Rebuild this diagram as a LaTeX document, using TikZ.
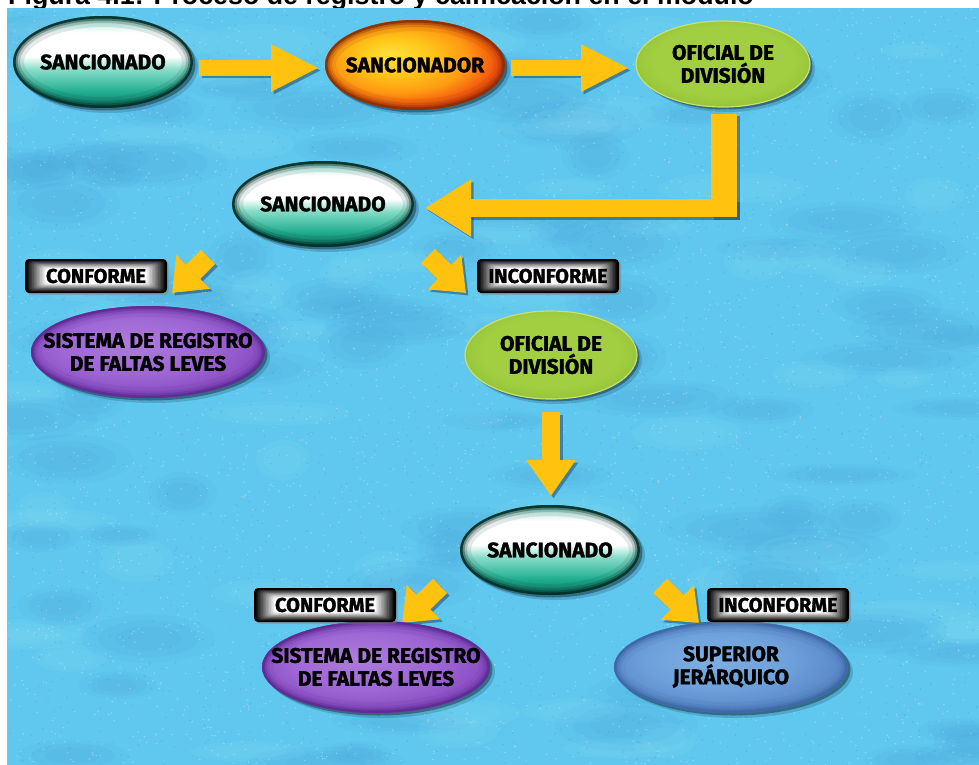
\documentclass[tikz,border=0pt]{standalone}
\usepackage{fontspec}
\setmainfont{Liberation Sans}
\newfontfamily\lblfont{Fira Sans}[BoldFeatures={FakeBold=1.6}]
\usetikzlibrary{shapes.geometric,arrows.meta,shadows,calc}

\definecolor{bgblue}{HTML}{60C8EE}
\definecolor{bgdark}{HTML}{3A8CCA}
\definecolor{bglight}{HTML}{A4EAFA}
\definecolor{arrowc}{HTML}{FFC20E}
\definecolor{arrowsh}{HTML}{1E4A6A}
\definecolor{tealA}{HTML}{0C7A64}
\definecolor{tealB}{HTML}{22AE90}
\definecolor{tealC}{HTML}{86DCC8}
\definecolor{tealD}{HTML}{C4EFE5}
\definecolor{tealE}{HTML}{4FBFA5}
\definecolor{tealR}{HTML}{03302A}
\definecolor{orY}{HTML}{FFE13E}
\definecolor{orA}{HTML}{FFC61A}
\definecolor{orB}{HTML}{FF9A12}
\definecolor{orC}{HTML}{F04A0C}
\definecolor{orD}{HTML}{D42808}
\definecolor{orR}{HTML}{8A3004}
\definecolor{grC}{HTML}{A2CF42}
\definecolor{grE}{HTML}{93C236}
\definecolor{grR}{HTML}{C9E06C}
\definecolor{puC}{HTML}{AC7CDC}
\definecolor{puM}{HTML}{9E66D4}
\definecolor{puE}{HTML}{8A4EC4}
\definecolor{puR}{HTML}{5E2C94}
\definecolor{blC}{HTML}{7EB0E4}
\definecolor{blM}{HTML}{6D9FDA}
\definecolor{blE}{HTML}{5A88C8}
\definecolor{blR}{HTML}{3E68A8}

\pgfdeclareverticalshading{tealball}{100bp}{color(0bp)=(tealA); color(25bp)=(tealA); color(34bp)=(tealB); color(46bp)=(tealC); color(53bp)=(white); color(66bp)=(white); color(72bp)=(tealD); color(75bp)=(tealE); color(100bp)=(tealE)}
\pgfdeclareradialshading{orangeball}{\pgfpoint{-7bp}{6bp}}{color(0bp)=(orY); color(10bp)=(orA); color(19bp)=(orB); color(27bp)=(orC); color(32bp)=(orD); color(50bp)=(orD)}
\pgfdeclareradialshading{greenball}{\pgfpoint{0bp}{3bp}}{color(0bp)=(grC); color(20bp)=(grC); color(28bp)=(grE); color(50bp)=(grE)}
\pgfdeclareradialshading{purpleball}{\pgfpoint{-4bp}{5bp}}{color(0bp)=(puC); color(16bp)=(puM); color(26bp)=(puE); color(34bp)=(puR); color(50bp)=(puR)}
\pgfdeclareradialshading{blueball}{\pgfpoint{-4bp}{5bp}}{color(0bp)=(blC); color(16bp)=(blM); color(26bp)=(blE); color(34bp)=(blR); color(50bp)=(blR)}

\tikzset{
  lbl/.style={font=\lblfont\bfseries\fontsize{21}{23}\selectfont, align=center, text=black, inner sep=0pt},
  taglbl/.style={lbl, font=\lblfont\bfseries\fontsize{20}{22}\selectfont},
  oval/.style 2 args={ellipse, minimum width=#1, minimum height=#2, inner sep=0pt},
  ringed/.style={path picture={
    \foreach \w/\o in {22/.10,14/.2,9/.38,5/.9}{
      \path let \p1=(path picture bounding box.north east),
                \p2=(path picture bounding box.center),
                \n1={\x1-\x2}, \n2={\y1-\y2} in
        [draw=#1, line width=\w pt, draw opacity=\o] (\p2) ellipse ({\n1} and {\n2});
    }}},
  softshadow/.style={drop shadow={shadow xshift=5pt, shadow yshift=-5pt, fill=arrowsh, opacity=.25},
                     drop shadow={shadow xshift=2.5pt, shadow yshift=-2.5pt, fill=black, opacity=.35}},
  tealnode/.style={softshadow, shade, shading=tealball, ringed=tealR},
  orangenode/.style={softshadow, shade, shading=orangeball, ringed=orR},
  greennode/.style={softshadow, shade, shading=greenball, draw=grR, line width=1.2pt},
  purplenode/.style={softshadow, shade, shading=purpleball, ringed=puR},
  bluenode/.style={softshadow, shade, shading=blueball, ringed=blR},
  tagbox/.style={rectangle, rounded corners=4pt, fill=black, minimum width=142pt, minimum height=34pt,
    inner sep=0pt, drop shadow={shadow xshift=2pt, shadow yshift=-2pt, opacity=.4}},
  arrbody/.style={draw=arrowc, line cap=butt},
  arrshadow/.style={draw=arrowsh, draw opacity=.55, fill opacity=.55, line cap=butt,
    transform canvas={shift={(2.5pt,-2.5pt)}}}
}

% from, to, body width, head width, head length
\newcommand\blockarrow[5]{%
  \draw[arrshadow, line width=#3, -{Triangle[width=#4,length=#5]}] (#1) -- (#2);
  \draw[arrbody, line width=#3, -{Triangle[width=#4,length=#5]}] (#1) -- (#2);}

% inner glow of a tag box, then its text
\newcommand\tagglow[2]{%
  \foreach \i in {1,...,12}{%
    \pgfmathtruncatemacro\gl{100-8.2*\i}%
    \fill[black!\gl, rounded corners=3pt]
      ([xshift=1.6*\i pt+1pt, yshift=-0.7*\i pt-1pt]#1.north west) rectangle
      ([xshift=-1.6*\i pt-1pt, yshift=0.7*\i pt+1pt]#1.south east);
  }%
  \node[taglbl] (#1t) at (#1) {#2};}

\begin{document}
\begin{tikzpicture}[x=1pt,y=-1pt]
\useasboundingbox (0,0) rectangle (979,765);
\fill[white] (0,0) rectangle (979,765);

% caption (cut at the top, as in the source)
\node[anchor=base west, inner sep=0pt, font=\bfseries\fontsize{26.8}{30}\selectfont] (cap) at (8,5)
  {Figura 4.1: Proceso de registro y calificación en el módulo};

% background
\fill[bgblue] (7,8) rectangle (979,765);
\begin{scope}
  \clip (7,8) rectangle (979,765);
  \pgfmathsetseed{42}
  \foreach \i in {1,...,90}{
    \pgfmathsetmacro\xx{7+972*rnd}
    \pgfmathsetmacro\yy{8+757*rnd}
    \pgfmathsetmacro\rx{30+60*rnd}
    \pgfmathsetmacro\ry{10+18*rnd}
    \foreach \k in {1.0,0.75,0.5}{
      \fill[bgdark, opacity=.06] (\xx,\yy) ellipse ({\k*\rx} and {\k*\ry});
    }
  }
  \foreach \i in {1,...,70}{
    \pgfmathsetmacro\xx{7+972*rnd}
    \pgfmathsetmacro\yy{8+757*rnd}
    \pgfmathsetmacro\rx{25+50*rnd}
    \pgfmathsetmacro\ry{8+14*rnd}
    \foreach \k in {1.0,0.7}{
      \fill[bglight, opacity=.07] (\xx,\yy) ellipse ({\k*\rx} and {\k*\ry});
    }
  }
  \foreach \i in {1,...,3500}{
    \fill[white, opacity=.30] (7+972*rnd, 8+757*rnd) circle (0.8);
  }
  \foreach \i in {1,...,1800}{
    \fill[bgdark, opacity=.30] (7+972*rnd, 8+757*rnd) circle (0.8);
  }
\end{scope}

% arrow coordinates
\coordinate (a1s) at (199,68);  \coordinate (a1e) at (319,68);
\coordinate (a2s) at (511,68);  \coordinate (a2e) at (629,68);
\coordinate (lv1) at (724,114); \coordinate (lv2) at (724,217);
\coordinate (lh1) at (737,208); \coordinate (lh2) at (425,208);
\coordinate (d1s) at (208,257); \coordinate (d1e) at (172,293);
\coordinate (d2s) at (428,256); \coordinate (d2e) at (466,293);
\coordinate (vs)  at (551,412); \coordinate (ve)  at (551,496);
\coordinate (d3s) at (440,586); \coordinate (d3e) at (402,623);
\coordinate (d4s) at (660,586); \coordinate (d4e) at (699,623);

% arrows
\blockarrow{a1s}{a1e}{16pt}{44pt}{48pt}
\blockarrow{a2s}{a2e}{16pt}{44pt}{48pt}
\draw[arrshadow, line width=26pt] (lv1) -- (lv2);
\draw[arrbody, line width=26pt] (lv1) -- (lv2);
\blockarrow{lh1}{lh2}{18pt}{54pt}{46pt}
\blockarrow{d1s}{d1e}{20pt}{46pt}{30pt}
\blockarrow{d2s}{d2e}{20pt}{46pt}{30pt}
\blockarrow{vs}{ve}{18pt}{47pt}{36pt}
\blockarrow{d3s}{d3e}{20pt}{46pt}{30pt}
\blockarrow{d4s}{d4e}{20pt}{46pt}{30pt}

% ellipse nodes
\node[oval={180pt}{92pt}, tealnode] (s1) at (103,62) {};
\node[oval={180pt}{90pt}, orangenode] (s2) at (415,65) {};
\node[oval={174pt}{86pt}, greennode] (o1) at (723,64) {};
\node[oval={182pt}{86pt}, tealnode] (s3) at (323,204) {};
\node[oval={234pt}{92pt}, purplenode] (r1) at (148,352) {};
\node[oval={172pt}{88pt}, greennode] (o2) at (551,355) {};
\node[oval={180pt}{90pt}, tealnode] (s4) at (550,550) {};
\node[oval={228pt}{92pt}, purplenode] (r2) at (376,667) {};
\node[oval={234pt}{92pt}, bluenode] (sp) at (731,667) {};

\node[lbl] (s1t) at (s1) {SANCIONADO};
\node[lbl] (s2t) at (s2) {SANCIONADOR};
\node[lbl] (o1t) at (o1) {OFICIAL DE\\DIVISIÓN};
\node[lbl] (s3t) at (s3) {SANCIONADO};
\node[lbl] (r1t) at (r1) {SISTEMA DE REGISTRO\\DE FALTAS LEVES};
\node[lbl] (o2t) at (o2) {OFICIAL DE\\DIVISIÓN};
\node[lbl] (s4t) at (s4) {SANCIONADO};
\node[lbl] (r2t) at (r2) {SISTEMA DE REGISTRO\\DE FALTAS LEVES};
\node[lbl] (spt) at (sp) {SUPERIOR\\JERÁRQUICO};

% tag boxes
\node[tagbox] (c1) at (96,276) {};
\node[tagbox] (i1) at (548,276) {};
\node[tagbox] (c2) at (325,605) {};
\node[tagbox] (i2) at (778,605) {};
\tagglow{c1}{CONFORME}
\tagglow{i1}{INCONFORME}
\tagglow{c2}{CONFORME}
\tagglow{i2}{INCONFORME}
\end{tikzpicture}
\end{document}
